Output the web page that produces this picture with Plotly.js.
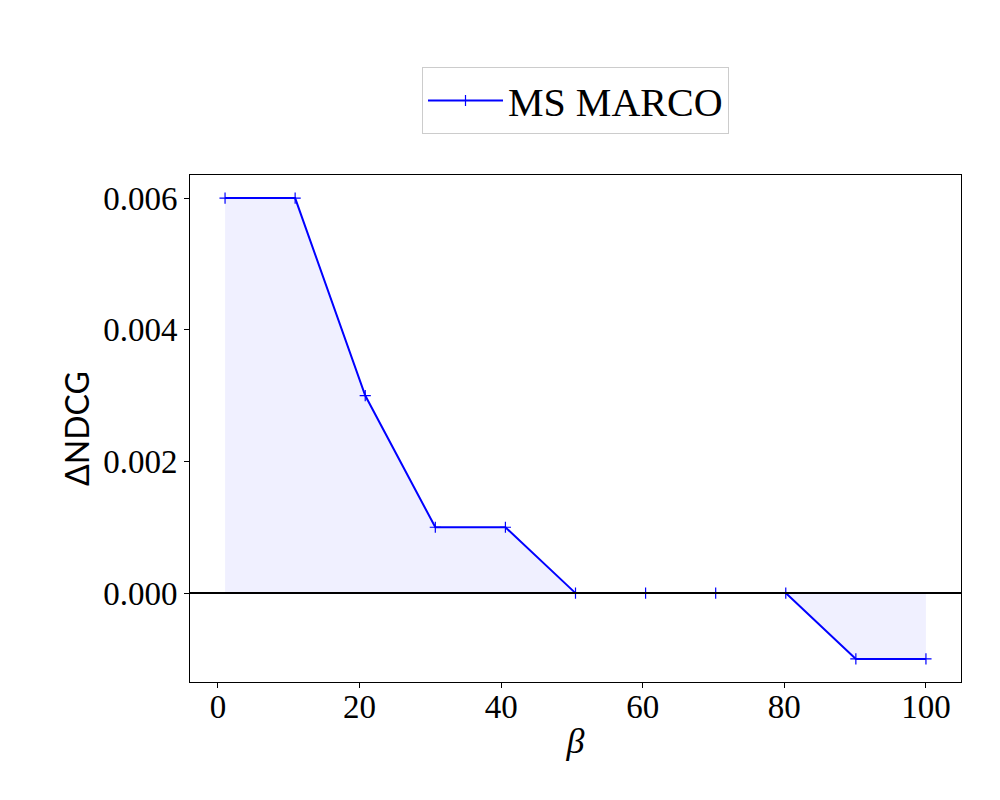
<!DOCTYPE html>
<html>
<head>
<meta charset="utf-8">
<script src="https://cdn.plot.ly/plotly-3.0.1.min.js"></script>
<style>html,body{margin:0;padding:0;background:#fff;}#chart{width:1000px;height:800px;}</style>
</head>
<body>
<div id="chart"></div>
<script>
const seriesName = "MS MARCO";
const betaValues = [1, 10.9, 20.8, 30.7, 40.6, 50.5, 60.4, 70.3, 80.2, 90.1, 100];
const deltaNdcg = [0.006, 0.006, 0.003, 0.001, 0.001, 0, 0, 0, 0, -0.001, -0.001];
const xTickValues = [0, 20, 40, 60, 80, 100];
const yTickValues = [0, 0.002, 0.004, 0.006];
const yTickLabels = ["0.000", "0.002", "0.004", "0.006"];

const serif = "Liberation Serif, DejaVu Serif, serif";

const fillTrace = {
  x: betaValues, y: deltaNdcg, type: "scatter", mode: "none",
  fill: "tozeroy", fillcolor: "rgba(0,0,255,0.06)",
  showlegend: false, hoverinfo: "skip"
};
const lineTrace = {
  x: betaValues, y: deltaNdcg, type: "scatter", mode: "lines+markers",
  name: seriesName,
  line: {color: "#0000ff", width: 2},
  marker: {symbol: "cross-thin", size: 8, line: {color: "#0000ff", width: 1.2}, color: "#0000ff"}
};

const layout = {
  width: 1000, height: 800,
  paper_bgcolor: "#ffffff", plot_bgcolor: "#ffffff",
  margin: {l: 190, r: 39, t: 175, b: 118},
  font: {family: serif, color: "#000000", size: 33},
  showlegend: true,
  legend: {
    x: 0.5, xanchor: "center", y: 1.213, yanchor: "top",
    orientation: "h", itemwidth: 75,
    bgcolor: "rgba(255,255,255,0.8)", bordercolor: "#cccccc", borderwidth: 1,
    font: {family: serif, size: 40, color: "#000000"}
  },
  xaxis: {
    range: [-3.95, 104.95], tickvals: xTickValues,
    ticks: "outside", ticklen: 5, tickwidth: 1, tickcolor: "#000",
    ticklabelstandoff: -10,
    showline: true, linecolor: "#000", linewidth: 1, mirror: true,
    showgrid: false, zeroline: false,
    tickfont: {family: serif, size: 33},
    title: {text: "<i>β</i>", font: {family: serif, size: 36}, standoff: 4}
  },
  yaxis: {
    range: [-0.00135, 0.00635], tickvals: yTickValues, ticktext: yTickLabels,
    ticks: "outside", ticklen: 5, tickwidth: 1, tickcolor: "#000",
    showline: true, linecolor: "#000", linewidth: 1, mirror: true,
    showgrid: false, zeroline: false,
    tickfont: {family: serif, size: 33},
    title: {text: "ΔNDCG", font: {family: "Lato, Liberation Sans, sans-serif", size: 32}, standoff: 3}
  },
  shapes: [{
    type: "line", xref: "paper", x0: 0, x1: 1, yref: "y", y0: 0, y1: 0,
    line: {color: "#000000", width: 2}, layer: "above"
  }]
};

Plotly.newPlot("chart", [fillTrace, lineTrace], layout, {staticPlot: true});
</script>
</body>
</html>
